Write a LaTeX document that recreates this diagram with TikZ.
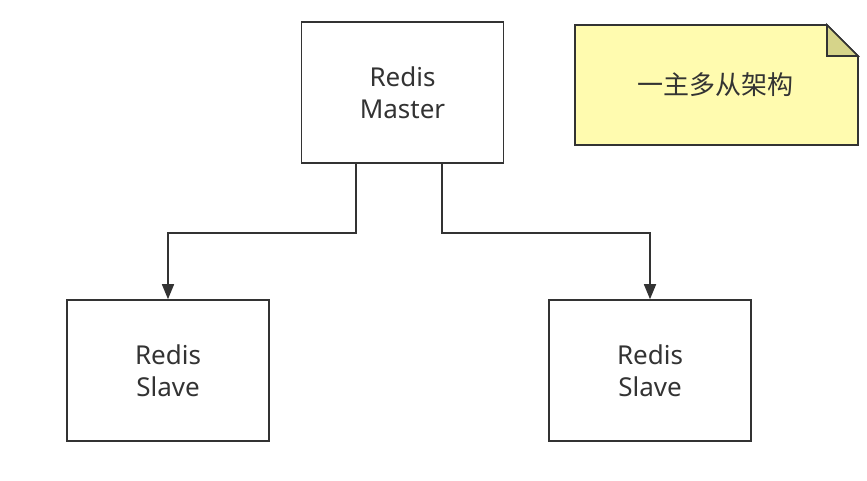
\documentclass[tikz,border=0pt]{standalone}
\usepackage{fontspec}
\setmainfont{Noto Sans}
\newfontfamily\cjk{Noto Sans CJK SC}
\usetikzlibrary{arrows.meta}
\definecolor{linegray}{HTML}{333333}
\definecolor{notefill}{HTML}{FFFBAF}
\definecolor{foldfill}{HTML}{D6D48A}
\tikzset{
	redisbox/.style={draw=linegray, line width=1.6pt, fill=white, minimum width=202pt, minimum height=141pt, align=center, text=linegray, font=\fontsize{26}{32}\selectfont},
	link/.style={draw=linegray, line width=1.6pt, -{Triangle[length=15pt, width=12pt]}}
}
\begin{document}
\begin{tikzpicture}[x=1pt, y=-1pt]
		\useasboundingbox (0, 0) rectangle (867, 480);
		\node[redisbox] (master) at (402.5, 92.5) {Redis\\Master};
		\node[redisbox] (slaveL) at (168, 370.5) {Redis\\Slave};
		\node[redisbox] (slaveR) at (650, 370.5) {Redis\\Slave};
		\filldraw[linegray, fill=notefill, line width=1.6pt, line join=miter] (575, 25) -- (827, 25) -- (858, 56) -- (858, 145) -- (575, 145) -- cycle;
		\filldraw[linegray, fill=foldfill, line width=1.6pt] (827, 25) -- (827, 56) -- (858, 56) -- cycle;
		\node[text=linegray, font=\cjk\fontsize{26}{30}\selectfont] (note) at (715.5, 85) {一主多从架构};
		\draw[link] (master.south) ++(-46.5, 0) -- ++(0, 69) -| (slaveL.north);
		\draw[link] (master.south) ++(39.5, 0) -- ++(0, 69) -| (slaveR.north);
\end{tikzpicture}
\end{document}
